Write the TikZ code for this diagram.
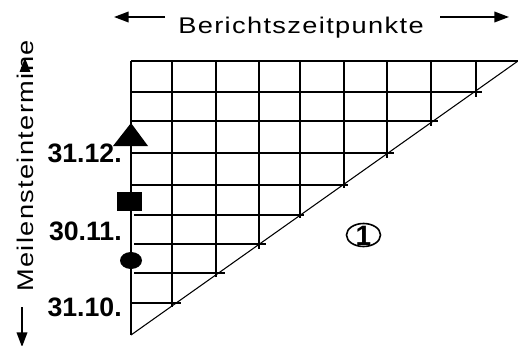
\documentclass[tikz,border=0pt]{standalone}
\usepackage{fontspec}
\setmainfont{Liberation Sans}
\newfontfamily\trackfont[LetterSpace=5]{Liberation Sans}
\usetikzlibrary{arrows.meta}
\newcommand{\widetext}[1]{\scalebox{1.2}[1.0]{\trackfont\fontsize{17}{20}\selectfont #1}}
\begin{document}
\begin{tikzpicture}[x=0.75pt,y=-0.75pt,
  gridline/.style={line width=1.25pt},
  hyp/.style={line width=0.8pt},
  axisarrow/.style={line width=1.2pt,-{Triangle[length=11pt,width=8pt]}},
  axislabel/.style={inner sep=0pt},
  datelabel/.style={font=\fontsize{20}{24}\selectfont\bfseries,inner sep=0pt,anchor=base east},
  marker/.style={fill=black,draw=none}]
\useasboundingbox (0,0) rectangle (518,346);
% top axis
\node[axislabel,anchor=base] (bz) at (301,34) {\widetext{Berichtszeitpunkte}};
\coordinate (la) at (165,17); \coordinate (lb) at (114,17);
\coordinate (ra) at (440,17); \coordinate (rb) at (509,17);
\draw[axisarrow] (la) -- (lb);
\draw[axisarrow] (ra) -- (rb);
% left axis
\node[axislabel,rotate=90,anchor=base] (ms) at (33,166) {\widetext{Meilensteintermine}};
\coordinate (da) at (22,307); \coordinate (db) at (22,347);
\draw[axisarrow] (da) -- (db);
\fill (25,58) -- (19.5,72) -- (30.5,72) -- cycle;
% grid
\draw[gridline] (131,61) -- (518,61);
\draw[gridline] (131,61) -- (131,335);
\foreach \y/\xs/\xe in {92/131/482,121/131/438,153/131/394,185/131/348,215/134/304,244/134/266,273/134/225,303/131/181}
  \draw[gridline] (\xs,\y) -- (\xe,\y);
\foreach \x/\ye in {172/307,216/277,259/249,300/218,344/188,387/158,431/126,476/97}
  \draw[gridline] (\x,61) -- (\x,\ye);
\draw[hyp] (131,335) -- (518,61);
% markers
\fill[marker] (131,123) -- (113,146) -- (148,146) -- cycle;
\fill[marker] (117,192) rectangle (142,211);
\fill[marker] (131,260.5) ellipse [x radius=11, y radius=8.5];
% date labels
\node[datelabel] (d1) at (122,162) {31.12.};
\node[datelabel] (d2) at (122,240) {30.11.};
\node[datelabel] (d3) at (122,316) {31.10.};
% circled one
\draw[line width=1.2pt] (363.5,235) ellipse [x radius=17, y radius=11.5];
\node[font=\fontsize{21}{24}\selectfont\bfseries,inner sep=0pt] (one) at (363.5,236) {1};
\end{tikzpicture}
\end{document}
